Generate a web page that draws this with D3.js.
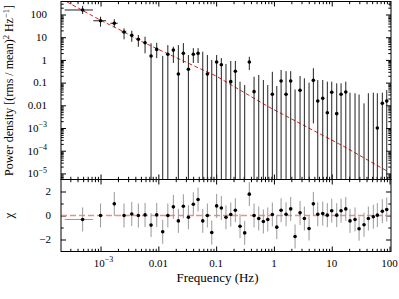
<!DOCTYPE html>
<html>
<head>
<meta charset="utf-8">
<script src="https://cdn.jsdelivr.net/npm/d3@7"></script>
<style>
body { margin: 0; background: #fff; }
text { font-family: "Liberation Serif", "DejaVu Serif", serif; fill: #000; }
</style>
</head>
<body>
<script>
// frequency of each bin (Hz)
var freq = [4.9e-4, 1.0e-3, 1.73e-3, 2.55e-3, 3.47e-3, 4.51e-3, 5.89e-3, 7.48e-3, 9.38e-3, 0.0119,
            0.0146, 0.0182, 0.0222, 0.0271, 0.0331, 0.0403, 0.0487, 0.0587, 0.0705, 0.084,
            0.102, 0.123, 0.148, 0.179, 0.215, 0.259, 0.312, 0.375, 0.453, 0.546,
            0.656, 0.782, 0.938, 1.12, 1.33, 1.62, 1.95, 2.32, 2.83, 3.36,
            4.05, 4.81, 5.73, 6.99, 8.39, 10.0, 12.2, 14.5, 17.5, 20.7,
            25.3, 29.7, 36.2, 43.0, 52.4, 61.5, 75.0, 89.5];
// half width of the first bins (Hz), 0 where it hides behind the dot
var freqErr = [2.5e-4, 2.5e-4, 2.5e-4, 2.5e-4, 0, 0];
// power density, null where the value is not positive
var power = [158, 53, 41, 17, 12.1, 8.1, 5.7, 1.49, 2.9, null,
             1.77, 2.7, 0.24, 1.95, 0.385, 1.77, 1.95, null, 0.24, null,
             0.81, 0.615, null, 0.11, 0.315, null, null, 0.81, 0.04, null,
             null, null, 0.0305, null, 0.117, 0.0305, 0.117, null, 0.046, null,
             null, 0.126, 0.0155, 0.0203, 0.0047, 0.0374, 0.0043, 0.0305, 0.0386, null,
             null, null, null, null, null, 0.001, 0.0122, 0.0155];
// top of each error bar
var powerHi = [240, 80, 62, 24.6, 19.4, 12.5, 10.5, 5.4, 5.7, 1.49,
               4.5, 3.8, 4.5, 5.5, 1.64, 3.3, 3.3, 2.3, 1.64, 0.99,
               1.64, 1.21, 0.66, 0.9, 0.9, 0.11, 0.078, 1.38, 0.182, 0.216,
               0.13, 0.078, 0.30, 0.071, 0.36, 0.32, 0.32, 0.05, 0.195, 0.155,
               0.1, 0.43, 0.13, 0.13, 0.11, 0.11, 0.093, 0.093, 0.11, 0.036,
               0.034, 0.03, 0.0122, 0.034, 0.036, 0.034, 0.036, 0.047];
// bottom of each error bar, null where it runs below the axis
var powerLo = [105, 29, 27.5, 8.1, 6.3, 3.8, 1.95, null, 1.2, null,
               null, 0.73, null, 0.73, null, 0.73, 0.73, null, null, null,
               null, null, null, null, null, null, null, 0.36, null, null,
               null, null, null, null, null, null, null, null, null, null,
               null, 0.0016, null, null, null, null, null, null, null, null,
               null, null, null, null, null, null, null, null];
// residuals in units of sigma
var chi = [-0.33, 0, 0.97, 0, 0.12, 0, 0.05, -0.8, 0.05, -1.36,
           0, 0.72, -0.45, 0.77, -0.15, 0.94, 1.33, -0.45, 0, -1.42,
           0.8, 0.63, -0.15, 0.08, 0.44, -0.89, -1.45, 1.78, 0, -0.25,
           -0.5, -0.33, 0.08, -0.97, 0.44, 0.1, 0.55, -1.75, 0.22, -0.25,
           -1.08, 0.97, 0.1, 0.16, 0.03, 0.4, 0.03, 0.4, 0.55, -0.45,
           -0.33, -1.1, -0.77, -0.25, -0.1, 0.03, 0.36, 0.5];
var chiErr = 1;
// model curve
var modelFreq = [2.07e-4, 2.6e-4, 1e-3, 2.55e-3, 4.5e-3, 0.0122, 0.1, 0.259, 0.8, 3.2, 15.8, 95];
var modelVal = [500, 363, 56, 17, 7.6, 2.3, 0.195, 0.047, 0.0087, 1.35e-3, 1.6e-4, 1.19e-5];

// tick values and labels
var xTicks = [1e-3, 0.01, 0.1, 1, 10, 100];
var xLabels = [["10", "\u22123"], ["0.01"], ["0.1"], ["1"], ["10"], ["100"]];
var yTicks = [100, 10, 1, 0.1, 0.01, 1e-3, 1e-4, 1e-5];
var yLabels = [["100"], ["10"], ["1"], ["0.1"], ["0.01"], ["10", "\u22123"], ["10", "\u22124"], ["10", "\u22125"]];
var chiTicks = [2, 0, -2];
var chiLabels = ["2", "0", "\u22122"];
var chiMinor = [1, -1];

// size of the SVG
var width = 399;
var height = 299;

var left = 61, right = 391;
var topMain = 1.5, bottomMain = 179.5, bottomChi = 251.5;

var svg = d3.select("body")
            .append("svg")
            .attr("width", width)
            .attr("height", height);

var xScale = d3.scaleLog()
               .domain([2.07e-4, 106])
               .range([left, right]);
var yScale = d3.scaleLog()
               .domain([5.4e-6, 374])
               .range([bottomMain, topMain]);
var cScale = d3.scaleLinear()
               .domain([-3, 3])
               .range([bottomChi, bottomMain]);

// minor tick values for a log domain
var minorTicks = function(domain){
    var out = [];
    var lo = Math.floor(Math.log10(domain[0]));
    var hi = Math.ceil(Math.log10(domain[1]));
    for (var e = lo; e <= hi; e++){
        for (var m = 2; m <= 9; m++){
            var v = m * Math.pow(10, e);
            if (v >= domain[0] && v <= domain[1]) out.push(v);
        }
    }
    return out;
};
var xMinor = minorTicks(xScale.domain());
var yMinor = minorTicks(yScale.domain());

var major = 5, minor = 2.7;

// draws one set of ticks without labels
var tickLines = function(axisFn, scale, vals, len, transform){
    svg.append("g")
       .attr("class", "ticks")
       .attr("transform", transform)
       .call(axisFn(scale).tickValues(vals).tickSizeInner(-len).tickSizeOuter(0).tickFormat(""))
       .call(function(g){ g.select(".domain").remove(); });
};

// x ticks on both panels
[["b", bottomMain], ["t", topMain], ["b", bottomChi], ["t", bottomMain]].forEach(function(p){
    var fn = p[0] == "b" ? d3.axisBottom : d3.axisTop;
    tickLines(fn, xScale, xTicks, major, "translate(0," + p[1] + ")");
    tickLines(fn, xScale, xMinor, minor, "translate(0," + p[1] + ")");
});
// y ticks of the main panel
tickLines(d3.axisLeft, yScale, yTicks, major, "translate(" + left + ",0)");
tickLines(d3.axisLeft, yScale, yMinor, minor, "translate(" + left + ",0)");
tickLines(d3.axisRight, yScale, yTicks, major, "translate(" + right + ",0)");
tickLines(d3.axisRight, yScale, yMinor, minor, "translate(" + right + ",0)");
// y ticks of the residual panel
tickLines(d3.axisLeft, cScale, chiTicks, major, "translate(" + left + ",0)");
tickLines(d3.axisLeft, cScale, chiMinor, minor, "translate(" + left + ",0)");
tickLines(d3.axisRight, cScale, chiTicks, major, "translate(" + right + ",0)");
tickLines(d3.axisRight, cScale, chiMinor, minor, "translate(" + right + ",0)");

svg.selectAll(".ticks line")
   .attr("stroke", "#000")
   .attr("stroke-width", 1);

// writes a label with an optional superscript
var putLabel = function(sel, parts){
    sel.append("tspan").text(parts[0]);
    if (parts.length > 1){
        sel.append("tspan")
           .attr("dy", -4.5)
           .attr("font-size", "8px")
           .text(parts[1]);
    }
};

var tickFont = "11px";

// x tick labels
xTicks.forEach(function(v, i){
    var t = svg.append("text")
               .attr("x", xScale(v))
               .attr("y", bottomChi + 15)
               .attr("text-anchor", "middle")
               .attr("font-size", tickFont);
    putLabel(t, xLabels[i]);
    if (xLabels[i].length > 1) t.attr("dx", 3);
});
// y tick labels of the main panel
yTicks.forEach(function(v, i){
    var t = svg.append("text")
               .attr("x", left - 14)
               .attr("y", yScale(v) + 3.8)
               .attr("text-anchor", "end")
               .attr("font-size", tickFont);
    putLabel(t, yLabels[i]);
});
// y tick labels of the residual panel
chiTicks.forEach(function(v, i){
    svg.append("text")
       .attr("x", left - 10)
       .attr("y", cScale(v) + 3.8)
       .attr("text-anchor", "end")
       .attr("font-size", tickFont)
       .text(chiLabels[i]);
});

// clip paths for the panels
var defs = svg.append("defs");
defs.append("clipPath").attr("id", "clipMain")
    .append("rect")
    .attr("x", left).attr("y", topMain)
    .attr("width", right - left).attr("height", bottomMain - topMain);
defs.append("clipPath").attr("id", "clipChi")
    .append("rect")
    .attr("x", left).attr("y", bottomMain)
    .attr("width", right - left).attr("height", bottomChi - bottomMain);

var main = svg.append("g").attr("clip-path", "url(#clipMain)");
var res = svg.append("g").attr("clip-path", "url(#clipChi)");

// dashed model curve
var modelLine = d3.line()
                  .x(function(d){ return xScale(d[0]); })
                  .y(function(d){ return yScale(d[1]); });
main.append("path")
    .datum(d3.zip(modelFreq, modelVal))
    .attr("d", modelLine)
    .attr("fill", "none")
    .attr("stroke", "#e0201c")
    .attr("stroke-width", 1)
    .attr("stroke-dasharray", "4,2.5");

// vertical error bars of the power spectrum
main.selectAll(".ebar")
    .data(freq)
    .enter()
    .append("line")
    .attr("x1", function(d){ return xScale(d); })
    .attr("x2", function(d){ return xScale(d); })
    .attr("y1", function(d, i){ return yScale(powerHi[i]); })
    .attr("y2", function(d, i){ return powerLo[i] == null ? bottomMain + 2 : yScale(powerLo[i]); })
    .attr("stroke", "#222")
    .attr("stroke-width", 1);

// horizontal bars of the first bins
main.selectAll(".xbar")
    .data(freqErr)
    .enter()
    .append("line")
    .filter(function(d){ return d > 0; })
    .attr("x1", function(d, i){ return xScale(freq[i] - d); })
    .attr("x2", function(d, i){ return xScale(freq[i] + d); })
    .attr("y1", function(d, i){ return yScale(power[i]); })
    .attr("y2", function(d, i){ return yScale(power[i]); })
    .attr("stroke", "#222")
    .attr("stroke-width", 1);

main.selectAll(".dot")
    .data(freq)
    .enter()
    .filter(function(d, i){ return power[i] != null; })
    .append("circle")
    .attr("cx", function(d){ return xScale(d); })
    .attr("cy", function(d){ var i = freq.indexOf(d); return yScale(power[i]); })
    .attr("r", 1.8)
    .attr("fill", "#000");

// residual panel: zero line
res.append("line")
   .attr("x1", left).attr("x2", right)
   .attr("y1", cScale(0)).attr("y2", cScale(0))
   .attr("stroke", "#f08c8c")
   .attr("stroke-width", 1.6)
   .attr("stroke-dasharray", "6,3");

res.selectAll(".cbar")
   .data(chi)
   .enter()
   .append("line")
   .attr("x1", function(d, i){ return xScale(freq[i]); })
   .attr("x2", function(d, i){ return xScale(freq[i]); })
   .attr("y1", function(d){ return cScale(d + chiErr); })
   .attr("y2", function(d){ return cScale(d - chiErr); })
   .attr("stroke", "#999")
   .attr("stroke-width", 1);

res.append("line")
   .attr("x1", xScale(freq[0] - freqErr[0])).attr("x2", xScale(freq[0] + freqErr[0]))
   .attr("y1", cScale(chi[0])).attr("y2", cScale(chi[0]))
   .attr("stroke", "#999")
   .attr("stroke-width", 1);

res.selectAll(".cdot")
   .data(chi)
   .enter()
   .append("circle")
   .attr("cx", function(d, i){ return xScale(freq[i]); })
   .attr("cy", function(d){ return cScale(d); })
   .attr("r", 1.8)
   .attr("fill", "#000");

// panel frames
[[topMain, bottomMain], [bottomMain, bottomChi]].forEach(function(p){
    svg.append("rect")
       .attr("x", left).attr("y", p[0])
       .attr("width", right - left).attr("height", p[1] - p[0])
       .attr("fill", "none")
       .attr("stroke", "#000")
       .attr("stroke-width", 1);
});

// axis titles
svg.append("text")
   .attr("x", 217.5)
   .attr("y", 282)
   .attr("text-anchor", "middle")
   .attr("font-size", "13px")
   .text("Frequency (Hz)");

var yTitle = svg.append("text")
                .attr("transform", "translate(13," + ((topMain + bottomMain) / 2) + ") rotate(-90)")
                .attr("text-anchor", "middle")
                .attr("font-size", "12px");
yTitle.append("tspan").text("Power density [(rms / mean)");
yTitle.append("tspan").attr("dy", -4.5).attr("font-size", "8.5px").text("2");
yTitle.append("tspan").attr("dy", 4.5).text(" Hz");
yTitle.append("tspan").attr("dy", -4.5).attr("font-size", "8.5px").text("\u22121");
yTitle.append("tspan").attr("dy", 4.5).text("]");

svg.append("text")
   .attr("transform", "translate(13," + cScale(0) + ") rotate(-90)")
   .attr("text-anchor", "middle")
   .attr("font-size", "13px")
   .text("\u03c7");
</script>
</body>
</html>
